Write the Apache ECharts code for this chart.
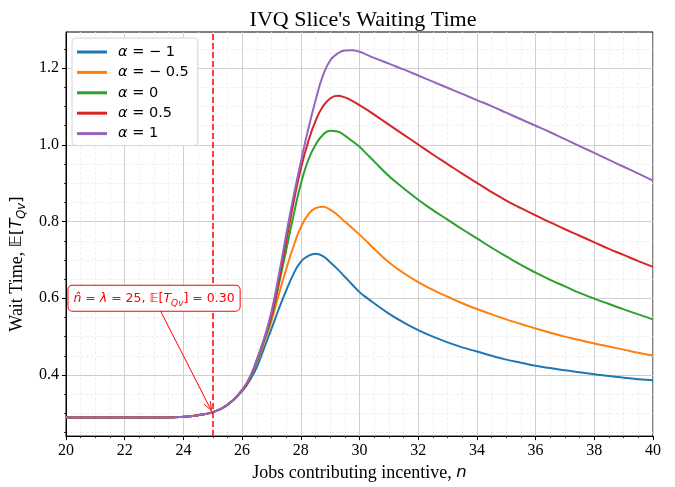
<!DOCTYPE html>
<html>
<head>
<meta charset="utf-8">
<script src="https://cdn.jsdelivr.net/npm/echarts@6/dist/echarts.min.js"></script>
<style>
  html, body { margin: 0; padding: 0; background: #ffffff; }
  #chart { width: 675px; height: 487px; }
</style>
</head>
<body>
<div id="chart"></div>
<script>
// Number of jobs contributing incentive (finer steps around the peaks)
const jobs = [20, 20.5, 21, 21.5, 22, 22.5, 23, 23.5, 24, 24.5, 25, 25.5,
              26, 26.25, 26.5, 26.75, 27, 27.25, 27.5, 27.75, 28, 28.25, 28.5, 28.75, 29, 29.25, 29.5, 29.75, 30, 30.25, 30.5,
              31, 31.5, 32, 32.5, 33, 33.5, 34, 34.5, 35, 35.5, 36, 36.5, 37, 37.5, 38, 38.5, 39, 39.5, 40];

// Expected waiting time of the IVQ slice for each alpha
const waitAlphaNeg1 = [0.289, 0.289, 0.289, 0.289, 0.289, 0.289, 0.289, 0.289, 0.291, 0.295, 0.303, 0.322,
                       0.358, 0.385, 0.420, 0.470, 0.520, 0.572, 0.620, 0.663, 0.695, 0.710, 0.716, 0.710, 0.694, 0.676, 0.656, 0.636, 0.616, 0.601, 0.587,
                       0.560, 0.537, 0.517, 0.500, 0.485, 0.472, 0.461, 0.450, 0.440, 0.432, 0.424, 0.418, 0.412, 0.407, 0.402, 0.397, 0.393, 0.389, 0.386];
const waitAlphaNeg05 = [0.289, 0.289, 0.289, 0.289, 0.289, 0.289, 0.289, 0.289, 0.291, 0.295, 0.303, 0.322,
                        0.360, 0.392, 0.432, 0.485, 0.540, 0.610, 0.675, 0.735, 0.785, 0.818, 0.835, 0.839, 0.831, 0.817, 0.800, 0.783, 0.766, 0.748, 0.729,
                        0.694, 0.666, 0.642, 0.622, 0.604, 0.587, 0.572, 0.558, 0.545, 0.533, 0.521, 0.510, 0.500, 0.491, 0.482, 0.474, 0.466, 0.458, 0.451];
const waitAlpha0 = [0.289, 0.289, 0.289, 0.289, 0.289, 0.289, 0.289, 0.289, 0.291, 0.295, 0.303, 0.322,
                    0.360, 0.390, 0.435, 0.490, 0.550, 0.635, 0.725, 0.815, 0.898, 0.960, 1.000, 1.026, 1.037, 1.035, 1.024, 1.010, 0.995, 0.976, 0.957,
                    0.919, 0.887, 0.857, 0.830, 0.805, 0.780, 0.756, 0.732, 0.709, 0.687, 0.667, 0.648, 0.631, 0.614, 0.599, 0.585, 0.571, 0.558, 0.545];
const waitAlpha05 = [0.289, 0.289, 0.289, 0.289, 0.289, 0.289, 0.289, 0.289, 0.291, 0.295, 0.303, 0.322,
                     0.360, 0.390, 0.438, 0.493, 0.555, 0.645, 0.748, 0.848, 0.938, 1.008, 1.062, 1.100, 1.121, 1.128, 1.124, 1.115, 1.104, 1.092, 1.079,
                     1.053, 1.027, 1.001, 0.975, 0.950, 0.925, 0.901, 0.877, 0.855, 0.835, 0.816, 0.798, 0.780, 0.763, 0.746, 0.729, 0.713, 0.697, 0.682];
const waitAlpha1 = [0.289, 0.289, 0.289, 0.289, 0.289, 0.289, 0.289, 0.289, 0.291, 0.295, 0.303, 0.322,
                    0.362, 0.392, 0.440, 0.495, 0.565, 0.660, 0.765, 0.865, 0.955, 1.040, 1.115, 1.180, 1.220, 1.238, 1.246, 1.247, 1.243, 1.235, 1.227,
                    1.212, 1.197, 1.181, 1.165, 1.149, 1.133, 1.117, 1.101, 1.084, 1.067, 1.050, 1.033, 1.015, 0.997, 0.979, 0.961, 0.943, 0.925, 0.907];

const seriesNames = ['α = − 1', 'α = − 0.5', 'α = 0', 'α = 0.5', 'α = 1'];
const seriesValues = [waitAlphaNeg1, waitAlphaNeg05, waitAlpha0, waitAlpha05, waitAlpha1];
const seriesColors = ['#1f77b4', '#ff7f0e', '#2ca02c', '#d62728', '#9467bd'];

// Axis ticks
const yMajorTicks = [0.4, 0.6, 0.8, 1.0, 1.2];
const yMinorTicks = [0.25, 0.30, 0.35, 0.45, 0.50, 0.55, 0.65, 0.70, 0.75, 0.85, 0.90, 0.95, 1.05, 1.10, 1.15, 1.25];
const yRange = [0.2405, 1.2945];
const xRange = [20, 40];

// Threshold annotation: n-hat = lambda = 25
const thresholdJobs = 25;
const thresholdWait = 0.30;
const annotationAnchor = [23, 0.6];

const chart = echarts.init(document.getElementById('chart'), null, { renderer: 'canvas' });

const mathFont = 'DejaVu Sans';
const serifFont = 'Liberation Serif';

const series = seriesNames.map((name, k) => ({
  name: name,
  type: 'line',
  data: jobs.map((n, i) => [n, seriesValues[k][i]]),
  showSymbol: false,
  smooth: 0.5,
  lineStyle: { color: seriesColors[k], width: 2 },
  itemStyle: { color: seriesColors[k] },
  z: 3 + k,
  animation: false
}));

// Dashed vertical marker at the threshold
series[0].markLine = {
  silent: true,
  symbol: ['none', 'none'],
  label: { show: false },
  lineStyle: { color: '#ff0000', type: [6, 3], width: 1.5 },
  data: [{ xAxis: thresholdJobs }],
  z: 10,
  animation: false
};

chart.setOption({
  animation: false,
  backgroundColor: '#ffffff',
  title: {
    text: "IVQ Slice's Waiting Time",
    left: 358,
    top: 4,
    textAlign: 'center',
    textStyle: { fontFamily: serifFont, fontSize: 22, fontWeight: 'normal', color: '#000' }
  },
  grid: {
    left: 65, right: 22, top: 32, bottom: 50,
    show: true, borderColor: '#000', borderWidth: 1, backgroundColor: '#fff'
  },
  legend: {
    orient: 'vertical',
    left: 72, top: 38,
    padding: [6, 9, 4, 5],
    itemWidth: 30, itemHeight: 3, itemGap: 4.4,
    icon: 'rect',
    backgroundColor: '#ffffff',
    borderColor: '#d6d6d6', borderWidth: 1, borderRadius: 4,
    data: seriesNames,
    formatter: name => '{a|α}' + name.slice(1),
    textStyle: {
      fontFamily: mathFont, fontSize: 14.5, color: '#000', lineHeight: 16, padding: [0, 0, 0, 6],
      rich: { a: { fontFamily: mathFont, fontSize: 14.5, fontStyle: 'italic', color: '#000' } }
    }
  },
  xAxis: {
    type: 'value',
    min: xRange[0], max: xRange[1], interval: 2,
    name: '{r|Jobs contributing incentive, }{i|n}',
    nameLocation: 'middle',
    nameGap: 27,
    nameTextStyle: {
      rich: {
        r: { fontFamily: serifFont, fontSize: 18, color: '#000' },
        i: { fontFamily: mathFont, fontSize: 16.5, fontStyle: 'italic', color: '#000' }
      }
    },
    axisLine: { show: true, lineStyle: { color: '#000', width: 1 } },
    axisTick: { show: true, length: 4, lineStyle: { color: '#000', width: 1 } },
    minorTick: { show: true, splitNumber: 4, length: 2, lineStyle: { color: '#000', width: 0.8 } },
    axisLabel: { fontFamily: serifFont, fontSize: 16, color: '#000', margin: 7 },
    splitLine: { show: true, lineStyle: { color: '#cfcfcf', width: 1 } },
    minorSplitLine: { show: true, lineStyle: { color: '#ececec', width: 0.8, type: [3, 2] } }
  },
  yAxis: [
    {
      type: 'value',
      min: yRange[0], max: yRange[1],
      name: '{r|Wait Time, }{m|𝔼[}{i|T}{s|Qv}{m|]}',
      nameLocation: 'middle',
      nameRotate: 90,
      nameGap: 38,
      nameTextStyle: {
        padding: [0, 60, 0, 0],
        rich: {
          r: { fontFamily: serifFont, fontSize: 18, color: '#000', lineHeight: 22 },
          m: { fontFamily: mathFont, fontSize: 16.5, color: '#000', lineHeight: 22 },
          i: { fontFamily: mathFont, fontSize: 16.5, fontStyle: 'italic', color: '#000', lineHeight: 22 },
          s: { fontFamily: mathFont, fontSize: 11.5, fontStyle: 'italic', color: '#000', lineHeight: 13, verticalAlign: 'bottom' }
        }
      },
      axisLine: { show: true, lineStyle: { color: '#000', width: 1 } },
      axisTick: { show: true, length: 4, customValues: yMajorTicks, lineStyle: { color: '#000', width: 1 } },
      axisLabel: {
        customValues: yMajorTicks,
        fontFamily: serifFont, fontSize: 16, color: '#000', margin: 7,
        formatter: v => v.toFixed(1)
      },
      splitLine: { show: true, lineStyle: { color: '#cfcfcf', width: 1 } }
    },
    {
      type: 'value',
      min: yRange[0], max: yRange[1],
      position: 'left',
      axisLine: { show: false },
      axisTick: { show: true, length: 2, customValues: yMinorTicks, lineStyle: { color: '#000', width: 0.8 } },
      axisLabel: { show: false },
      splitLine: { show: true, lineStyle: { color: '#ececec', width: 0.8, type: [3, 2] } }
    }
  ],
  series: series
});

// Annotation box with an arrow pointing at the threshold on the curve
function drawAnnotation() {
  const anchor = chart.convertToPixel({ gridIndex: 0 }, annotationAnchor);
  const target = chart.convertToPixel({ gridIndex: 0 }, [thresholdJobs, thresholdWait]);
  const boxHalfH = 12.5;
  const dx = target[0] - anchor[0];
  const dy = target[1] - anchor[1];
  const t0 = boxHalfH / dy;
  const start = [anchor[0] + dx * t0, anchor[1] + dy * t0];
  const len = Math.hypot(dx, dy);
  const ux = dx / len, uy = dy / len;
  const tip = [target[0] - ux * 3, target[1] - uy * 3];
  const headLen = 9, headHalf = 3.5;
  const base = [tip[0] - ux * headLen, tip[1] - uy * headLen];
  const left = [base[0] - uy * headHalf, base[1] + ux * headHalf];
  const right = [base[0] + uy * headHalf, base[1] - ux * headHalf];

  chart.setOption({
    graphic: [
      {
        type: 'line', silent: true, z: 20,
        shape: { x1: start[0], y1: start[1], x2: tip[0], y2: tip[1] },
        style: { stroke: '#ff0000', lineWidth: 1 }
      },
      {
        type: 'polyline', silent: true, z: 20,
        shape: { points: [left, tip, right] },
        style: { stroke: '#ff0000', lineWidth: 1, fill: null }
      },
      {
        type: 'text', silent: true, z: 21,
        x: anchor[0], y: anchor[1],
        style: {
          text: '{i|n̂} = {i|λ} = 25, 𝔼[{i|T}{s|Qv}] = 0.30',
          fontFamily: mathFont, fontSize: 12.5, fill: '#ff0000', lineHeight: 19,
          align: 'center', verticalAlign: 'middle',
          backgroundColor: '#ffffff', borderColor: '#ff0000', borderWidth: 1, borderRadius: 4,
          padding: [3, 5, 3, 5],
          rich: {
            i: { fontFamily: mathFont, fontSize: 12.5, fontStyle: 'italic', fill: '#ff0000', lineHeight: 19 },
            s: { fontFamily: mathFont, fontSize: 9, fontStyle: 'italic', fill: '#ff0000', lineHeight: 11, verticalAlign: 'bottom' }
          }
        }
      }
    ]
  });
}
drawAnnotation();
</script>
</body>
</html>
